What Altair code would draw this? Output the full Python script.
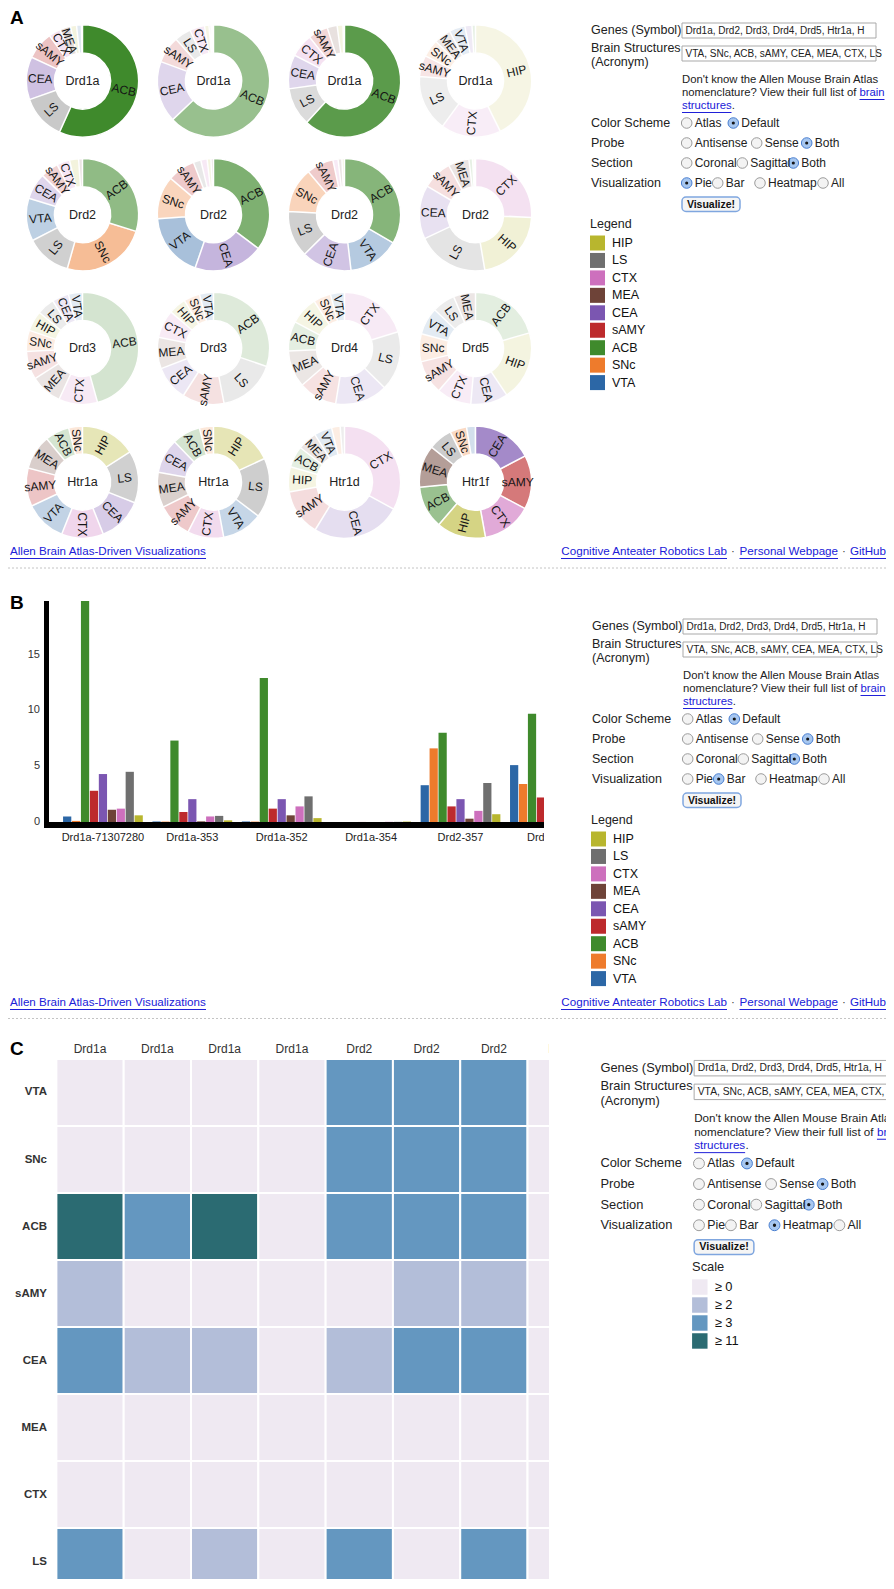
import math
import altair as alt
import pandas as pd

FONT = "Liberation Sans"
INK = "#222222"
LINK = "#2020d8"

# ---------------- data ----------------
STRUCTS = ["VTA", "SNc", "ACB", "sAMY", "CEA", "MEA", "CTX", "LS", "HIP"]
COLORS = ["#2c67a6", "#ee7b2c", "#3f8a2c", "#bd2a2c", "#7b56b1",
          "#6e4338", "#cd70bd", "#6f6f6f", "#b8b62e"]
GENES = ["Drd1a", "Drd1a", "Drd1a", "Drd1a", "Drd2", "Drd2", "Drd2", "Drd2",
         "Drd3", "Drd3", "Drd4", "Drd5", "Htr1a", "Htr1a", "Htr1d", "Htr1f"]
PROBES = ["Drd1a-71307280", "Drd1a-353", "Drd1a-352", "Drd1a-354",
          "Drd2-357", "Drd2-358"]

# expression per probe, in STRUCTS order
V01 = [0.5, 0.1, 19.8, 2.8, 4.3, 1.1, 1.2, 4.5, 0.6]
V02 = [0.05, 0.04, 7.3, 0.9, 2.05, 0.06, 0.5, 0.55, 0.15]
V03 = [0.05, 0.04, 12.9, 1.2, 2.05, 0.6, 1.4, 2.3, 0.35]
V04 = [0.0045, 0.005, 0.001, 0.006, 0.002, 0.0048, 0.017, 0.016, 0.042]
V05 = [3.3, 6.6, 8.0, 1.4, 2.05, 0.3, 1.0, 3.5, 0.7]
V06 = [5.1, 3.4, 9.7, 2.2, 5.5, 0.2, 0.5, 0.6, 0.3]
V07 = [4.0, 3.5, 9.0, 2.1, 3.9, 0.3, 0.4, 3.6, 0.2]
V08 = [0.02, 0.03, 0.06, 0.5, 0.9, 0.35, 1.5, 1.2, 1.25]
V09 = [0.16, 0.24, 1.8, 0.32, 0.19, 0.36, 0.44, 0.2, 0.23]
V10 = [0.12, 0.14, 0.9, 0.36, 0.3, 0.27, 0.24, 0.5, 0.15]
V11 = [0.08, 0.1, 0.17, 0.22, 0.3, 0.21, 0.4, 0.34, 0.16]
V12 = [0.16, 0.165, 0.42, 0.2, 0.22, 0.13, 0.205, 0.135, 0.41]
V13 = [2.88, 0.96, 1.68, 2.64, 3.12, 2.4, 2.9, 3.6, 3.84]
V14 = [2.6, 0.9, 1.8, 2.25, 2.2, 2.24, 2.3, 3.8, 4.0]
V15 = [0.25, 0.12, 0.3, 0.65, 1.25, 0.27, 1.6, 0.06, 0.35]
V16 = [1.5, 2.8, 7.1, 9.0, 10.0, 7.0, 8.3, 4.0, 8.2]
VALUES = [V01, V02, V03, V04, V05, V06, V07, V08,
          V09, V10, V11, V12, V13, V14, V15, V16]

Y_TICKS = [0, 5, 10, 15]
SCALE_BREAKS = [2, 3, 11]
SCALE_COLORS = ["#efe9f2", "#b3bed9", "#6497c0", "#2b6b72"]
SCALE_LABELS = ["≥ 0", "≥ 2", "≥ 3", "≥ 11"]
GENE_QUERY = "Drd1a, Drd2, Drd3, Drd4, Drd5, Htr1a, H"
STRUCT_QUERY = "VTA, SNc, ACB, sAMY, CEA, MEA, CTX, LS"

rows = []
for k, vals in enumerate(VALUES):
    for s, (st, v) in enumerate(zip(STRUCTS, vals)):
        rows.append({"probe": k, "gene": GENES[k], "structure": st, "s": s, "value": v})
long_df = pd.DataFrame(rows)

COLOR_SCALE = alt.Scale(domain=STRUCTS, range=COLORS)


def panel_letter(letter, y):
    return alt.Chart(pd.DataFrame({"t": [letter]})).mark_text(
        align="left", baseline="middle", font=FONT, fontSize=19, fontWeight="bold",
        color="#000", clip=True).encode(text="t:N", x=alt.value(2), y=alt.value(y))


# ---------------- generic pixel-layout view for page chrome ----------------
def ui_view(W, H, texts=(), rects=(), rules=(), radios=(), swatches=()):
    PX = alt.Scale(domain=[0, W], nice=False, zero=False)
    PY = alt.Scale(domain=[0, H], nice=False, zero=False, reverse=True)
    ex = alt.X("x:Q", scale=PX, axis=None)
    ey = alt.Y("y:Q", scale=PY, axis=None)
    layers = []
    for r in rects:
        d = pd.DataFrame([{k: r[k] for k in ("x", "x2", "y", "y2")}])
        layers.append(alt.Chart(d).mark_rect(clip=True, **r["style"]).encode(
            x=ex, x2="x2:Q", y=ey, y2="y2:Q"))
    if swatches:
        d = pd.DataFrame(swatches)
        layers.append(alt.Chart(d).mark_rect(clip=True).encode(
            x=ex, x2="x2:Q", y=ey, y2="y2:Q", color=alt.Color("c:N", scale=None, legend=None)))
    for r in rules:
        d = pd.DataFrame([{k: r[k] for k in ("x", "x2", "y")}])
        kw = dict(color=r["c"], strokeWidth=r.get("w", 1), clip=True)
        if "dash" in r:
            kw["strokeDash"] = r["dash"]
        layers.append(alt.Chart(d).mark_rule(**kw).encode(x=ex, x2="x2:Q", y=ey))
    if radios:
        d = pd.DataFrame(radios)
        un = d[d.sel == 0]
        se = d[d.sel == 1]
        if len(un):
            layers.append(alt.Chart(un).mark_point(shape="circle", filled=True, fill="#f3f3f3",
                                                   stroke="#9c9c9c", strokeWidth=1, opacity=1,
                                                   clip=True).encode(
                x=ex, y=ey, size=alt.Size("size:Q", scale=None, legend=None)))
        if len(se):
            layers.append(alt.Chart(se).mark_point(shape="circle", filled=True, fill="#a7c7f0",
                                                   stroke="#4a7fd0", strokeWidth=1, opacity=1,
                                                   clip=True).encode(
                x=ex, y=ey, size=alt.Size("size:Q", scale=None, legend=None)))
            layers.append(alt.Chart(se).mark_point(shape="circle", filled=True, fill="#151515",
                                                   strokeWidth=0, opacity=1, clip=True).encode(
                x=ex, y=ey, size=alt.Size("dot:Q", scale=None, legend=None)))
    if texts:
        d = pd.DataFrame(texts)
        for (al, wt), g in d.groupby(["align", "weight"]):
            layers.append(alt.Chart(g).mark_text(align=al, baseline="middle", font=FONT,
                                                 fontWeight=wt, clip=True).encode(
                x=ex, y=ey, text="t:N",
                size=alt.Size("fs:Q", scale=None, legend=None),
                color=alt.Color("c:N", scale=None, legend=None)))
    return alt.layer(*layers).properties(width=W, height=H)


def form_view(W, H, ox, oy, s, vis_sel, legend_title, legend_labels, legend_colors, legend_x):
    X = lambda v: ox + s * v
    Y = lambda v: oy + s * v
    texts, rects, rules, radios, swatches = [], [], [], [], []

    def T(x, y, t, fs=12.5, c=INK, align="left", weight="normal"):
        texts.append(dict(x=X(x), y=Y(y), t=t, fs=fs * s, c=c, align=align, weight=weight))

    for lab, y in [("Genes (Symbol)", 22), ("Brain Structures", 40), ("(Acronym)", 54),
                   ("Color Scheme", 115), ("Probe", 135), ("Section", 155), ("Visualization", 175)]:
        T(47, y, lab)
    for (y0, y1, q, ty) in [(15, 30, GENE_QUERY, 22.5), (38, 53, STRUCT_QUERY, 45.5)]:
        rects.append(dict(x=X(138), x2=X(332), y=Y(y0), y2=Y(y1),
                          style=dict(fill="white", stroke="#a9a9a9", strokeWidth=1)))
        T(141.5, ty, q, 10)
    T(138, 72, "Don't know the Allen Mouse Brain Atlas", 11.3)
    T(138, 85, "nomenclature? View their full list of", 11.3)
    T(315.5, 85, "brain", 11.3, LINK)
    T(138, 98, "structures", 11.3, LINK)
    T(187.8, 98, ".", 11.3)
    rules.append(dict(x=X(315.5), x2=X(340.5), y=Y(91.5), c=LINK))
    rules.append(dict(x=X(138), x2=X(187.5), y=Y(104.5), c=LINK))

    radio_rows = [(115, [(142.7, "Atlas"), (189.3, "Default")], 1),
                  (135, [(142.7, "Antisense"), (212.7, "Sense"), (262.7, "Both")], 2),
                  (155, [(142.7, "Coronal"), (198.3, "Sagittal"), (249.3, "Both")], 2),
                  (175, [(142.7, "Pie"), (173.7, "Bar"), (216, "Heatmap"), (279, "All")], vis_sel)]
    for y, opts, sel in radio_rows:
        for i, (rx, lab) in enumerate(opts):
            radios.append(dict(x=X(rx), y=Y(y), sel=int(i == sel), size=112 * s * s, dot=10 * s * s))
            T(rx + 8, y, lab, 12)

    rects.append(dict(x=X(138), x2=X(196), y=Y(189), y2=Y(203.5),
                      style=dict(fill="#f5f5f5", stroke="#7fa6df", strokeWidth=1.5, cornerRadius=4)))
    T(167, 196.5, "Visualize!", 10.5, "#111", "center", "bold")

    T(legend_x, 216, legend_title, 12.5)
    for k, (lab, col) in enumerate(zip(legend_labels, legend_colors)):
        yc = 235 + 17.45 * k
        swatches.append(dict(x=X(legend_x), x2=X(legend_x + 15), y=Y(yc - 7.5), y2=Y(yc + 7.5), c=col))
        T(legend_x + 22, yc, lab, 12.5, "#111")
    return ui_view(W, H, texts, rects, rules, radios, swatches)


def footer_view(W, H, ly, dy):
    texts, rules = [], []
    fs = 11.6

    def T(x, t, c=LINK, align="left"):
        texts.append(dict(x=x, y=ly, t=t, fs=fs, c=c, align=align, weight="normal"))

    T(2, "Allen Brain Atlas-Driven Visualizations")
    rules.append(dict(x=2, x2=198, y=ly + 6.5, c=LINK))
    T(878, "GitHub", align="right")
    rules.append(dict(x=842, x2=878, y=ly + 6.5, c=LINK))
    T(836, "·", "#444", "center")
    T(830, "Personal Webpage", align="right")
    rules.append(dict(x=731.5, x2=830, y=ly + 6.5, c=LINK))
    T(725, "·", "#444", "center")
    T(719, "Cognitive Anteater Robotics Lab", align="right")
    rules.append(dict(x=553, x2=719, y=ly + 6.5, c=LINK))
    rules.append(dict(x=0, x2=W, y=dy, c="#c4c4c4", dash=[2, 2]))
    return ui_view(W, H, texts, (), rules)


# ---------------- panel A: donuts (one view, centres placed by scales) ----------------
A_W, A_H = 536, 532
AX = alt.Scale(domain=[-0.5687, 3.5229], nice=False, zero=False)   # donut column index
AY = alt.Scale(domain=[-0.546, 3.433], nice=False, zero=False, reverse=True)  # donut row index
PX_PER_COL = A_W / (3.5229 + 0.5687)
PX_PER_ROW = A_H / (3.433 + 0.546)
R_IN, R_OUT, R_LAB = 28, 56.2, 42.3
TH = alt.Scale(domain=[0, 1], range=[0, 2 * math.pi])
OPACITY_SCALE = alt.Scale(domain=[0, 15.53], range=[0.118, 1], clamp=True)

donut_base = alt.Chart(long_df).transform_joinaggregate(
    total="sum(value)", groupby=["probe"]
).transform_window(
    cum="sum(value)", groupby=["probe"], sort=[alt.SortField("value", order="descending")],
    frame=[None, 0], ignorePeers=True
).transform_calculate(
    col="datum.probe % 4", row="floor(datum.probe / 4)",
    t0="(datum.cum - datum.value) / datum.total", t1="datum.cum / datum.total",
    share="datum.value / datum.total",
).transform_calculate(
    tm="(datum.t0 + datum.t1) / 2"
).transform_calculate(
    rot="((datum.tm * 360 <= 180 ? datum.tm * 360 - 90 : datum.tm * 360 - 270) + 360) % 360",
    label="datum.share >= 0.03 ? datum.structure : ''",
    lx=f"datum.col + {R_LAB} * sin(2 * PI * datum.tm) / {PX_PER_COL}",
    ly=f"datum.row - {R_LAB} * cos(2 * PI * datum.tm) / {PX_PER_ROW}",
)
arcs = donut_base.mark_arc(innerRadius=R_IN, outerRadius=R_OUT, stroke="white",
                           strokeWidth=1.5, clip=True).encode(
    x=alt.X("col:Q", scale=AX, axis=None), y=alt.Y("row:Q", scale=AY, axis=None),
    theta=alt.Theta("t0:Q", scale=TH, stack=None), theta2="t1:Q",
    color=alt.Color("structure:N", scale=COLOR_SCALE, legend=None),
    opacity=alt.Opacity("value:Q", scale=OPACITY_SCALE, legend=None))
slice_labels = donut_base.mark_text(font=FONT, fontSize=12, color="#151515", clip=True).encode(
    x=alt.X("lx:Q", scale=AX, axis=None), y=alt.Y("ly:Q", scale=AY, axis=None),
    text="label:N", angle=alt.Angle("rot:Q", scale=None))
centres = alt.Chart(pd.DataFrame({"probe": list(range(len(GENES))), "gene": GENES})).transform_calculate(
    col="datum.probe % 4", row="floor(datum.probe / 4)").mark_text(
    font=FONT, fontSize=12.5, color=INK, clip=True).encode(
    x=alt.X("col:Q", scale=AX, axis=None), y=alt.Y("row:Q", scale=AY, axis=None), text="gene:N")
panel_a = alt.layer(arcs, slice_labels, centres, panel_letter("A", 10)).properties(width=A_W, height=A_H)

LEG_LABELS = list(reversed(STRUCTS))
LEG_COLORS = list(reversed(COLORS))
form_a = form_view(342, A_H, 0, 0, 1.0, 0, "Legend", LEG_LABELS, LEG_COLORS, 46)
row_a = alt.hconcat(panel_a, form_a, spacing=0, bounds="flush")

# ---------------- panel B: grouped bars ----------------
XS = alt.Scale(domain=[-6.12, 53.84], nice=False, zero=False)
YS = alt.Scale(domain=[-15.5, 21.24], nice=False, zero=False)
bar_df = long_df[long_df.probe < len(PROBES)]
bars = alt.Chart(bar_df).transform_calculate(
    x0="datum.probe * 10 + datum.s + 0.04", x1="datum.probe * 10 + datum.s + 0.96"
).mark_rect(clip=True).encode(
    x=alt.X("x0:Q", scale=XS, axis=None), x2="x1:Q",
    y=alt.Y("value:Q", scale=YS, axis=None), y2=alt.datum(0),
    color=alt.Color("structure:N", scale=COLOR_SCALE, legend=None))
xlabels = alt.Chart(pd.DataFrame({"probe": list(range(len(PROBES))), "name": PROBES})).transform_calculate(
    xc="datum.probe * 10 + 4.5").mark_text(clip=True, font=FONT, fontSize=11, color=INK).encode(
    x=alt.X("xc:Q", scale=XS, axis=None), y=alt.value(253), text="name:N")
yticks = alt.Chart(pd.DataFrame({"t": Y_TICKS})).mark_text(
    align="right", baseline="middle", font=FONT, fontSize=11, color="#333", clip=True).encode(
    x=alt.value(32), y=alt.Y("t:Q", scale=YS, axis=None), text="t:Q")
yline = alt.Chart(bar_df).transform_aggregate(m="max(value)").mark_rule(
    strokeWidth=5, color="black", y2Offset=6, clip=True).encode(
    x=alt.value(38.5), y=alt.Y("m:Q", scale=YS, axis=None), y2=alt.datum(0))
xline = alt.Chart(pd.DataFrame({"z": [0]})).mark_rule(
    strokeWidth=6, color="black", yOffset=3, clip=True).encode(
    x=alt.value(36), x2=alt.value(536), y=alt.Y("z:Q", scale=YS, axis=None))
bar_view = alt.layer(bars, yline, xline, yticks, xlabels, panel_letter("B", 18)).properties(
    width=536, height=410)
form_b = form_view(342, 410, 1, 19, 1.0, 1, "Legend", LEG_LABELS, LEG_COLORS, 46)
row_b = alt.hconcat(bar_view, form_b, spacing=0, bounds="flush")

# ---------------- panel C: heatmap ----------------
C_H = 549
HX = alt.Scale(domain=[-0.719, 7.319], nice=False, zero=False)
HY = alt.Scale(domain=[-0.4328, 7.761], nice=False, zero=False, reverse=True)
heat_df = long_df[(long_df.probe < 8) & (long_df.s < 8)]
cells = alt.Chart(heat_df).transform_calculate(c1="datum.probe + 1", r1="datum.s + 1").mark_rect(
    stroke="white", strokeWidth=2, clip=True).encode(
    x=alt.X("probe:Q", scale=HX, axis=None), x2="c1:Q",
    y=alt.Y("s:Q", scale=HY, axis=None), y2="r1:Q",
    color=alt.Color("value:Q", scale=alt.Scale(type="threshold", domain=SCALE_BREAKS,
                                               range=SCALE_COLORS), legend=None))
hdr = alt.Chart(pd.DataFrame({"probe": list(range(8)), "gene": GENES[:8]})).transform_calculate(
    xc="datum.probe + 0.5").mark_text(clip=True, font=FONT, fontSize=12, color="#333").encode(
    x=alt.X("xc:Q", scale=HX, axis=None), y=alt.value(19), text="gene:N")
rlab = alt.Chart(pd.DataFrame({"s": list(range(8)), "structure": STRUCTS[:8]})).transform_calculate(
    yc="datum.s + 0.5").mark_text(align="right", font=FONT, fontSize=11.5, fontWeight="bold",
                                  color="#333", clip=True).encode(
    x=alt.value(39), y=alt.Y("yc:Q", scale=HY, axis=None), text="structure:N")
heat_view = alt.layer(cells, hdr, rlab, panel_letter("C", 19)).properties(width=541, height=C_H)
form_c = form_view(337, C_H, 3, 15, 1.03, 2, "Scale", SCALE_LABELS, SCALE_COLORS, 136)
row_c = alt.hconcat(heat_view, form_c, spacing=0, bounds="flush")

# ---------------- page ----------------
foot_a = footer_view(878, 45, 12, 28)
foot_b = footer_view(878, 35, 8, 23.5)

chart = alt.vconcat(row_a, foot_a, row_b, foot_b, row_c, spacing=0).properties(
    padding=0
).configure(background="white").configure_view(stroke="transparent", strokeWidth=0)

chart.save("out.html", embed_options={"renderer": "svg", "actions": False})
